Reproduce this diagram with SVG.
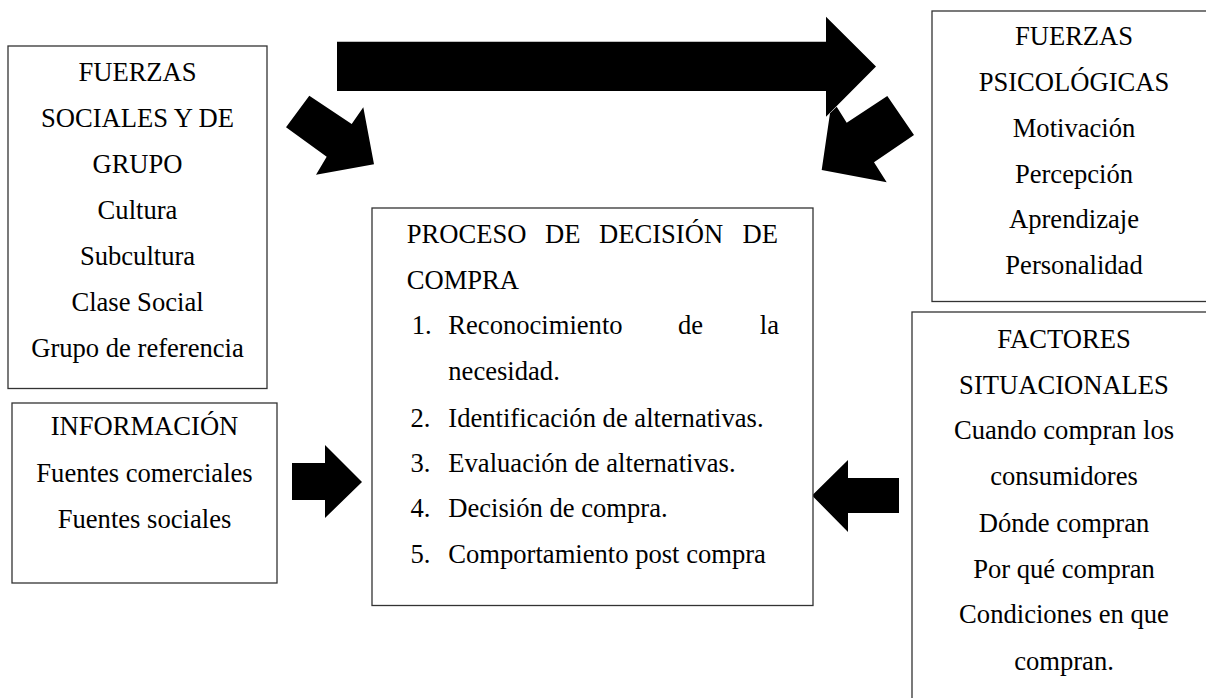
<svg xmlns="http://www.w3.org/2000/svg" width="1206" height="698" viewBox="0 0 1206 698" font-family="'Liberation Serif', 'DejaVu Serif', serif">
<style>
.box{fill:#fff;stroke:#333;stroke-width:1.3}
text{font-family:'Liberation Serif','DejaVu Serif',serif;font-size:26.6px;fill:#000}
.c{text-anchor:middle}
.e{text-anchor:end}
.arr{fill:#000}
</style>
<rect width="1206" height="698" fill="#fff"/>
<g id="connectors">
<polygon class="arr" points="337,41.7 826,41.7 826,16.7 876,66.5 826,116.7 826,91 337,91"/>
<polygon class="arr" points="309.3,95.7 351.7,124 363.3,107.3 374,164.3 316,174.7 326.7,156.7 286,127.3"/>
<polygon class="arr" points="887.3,96 914,135 874,162.3 886.7,182.3 821.7,170 830,113.3 836.7,106.7 846.7,122.7"/>
<polygon class="arr" points="292,463 325,463 325,445 362,482 325,518 325,500 292,500"/>
<polygon class="arr" points="899,478 848,478 848,460 812,495.5 848,532 848,513 899,513"/>
</g>
<g id="n-sociales">
<rect class="box" x="8" y="46" width="259" height="342.5"/>
<text class="c" x="137.5" y="81">FUERZAS</text>
<text class="c" x="137.5" y="127">SOCIALES Y DE</text>
<text class="c" x="137.5" y="173">GRUPO</text>
<text class="c" x="137.5" y="219">Cultura</text>
<text class="c" x="137.5" y="265">Subcultura</text>
<text class="c" x="137.5" y="310.5">Clase Social</text>
<text class="c" x="137.5" y="356.5">Grupo de referencia</text>
</g>
<g id="n-informacion">
<rect class="box" x="12" y="403" width="265" height="180"/>
<text class="c" x="144.5" y="435">INFORMACIÓN</text>
<text class="c" x="144.5" y="481.5">Fuentes comerciales</text>
<text class="c" x="144.5" y="528">Fuentes sociales</text>
</g>
<g id="n-proceso">
<rect class="box" x="372" y="208" width="441" height="397.5"/>
<text x="406.7" y="243">PROCESO</text>
<text x="545" y="243">DE</text>
<text x="599" y="243">DECISIÓN</text>
<text class="e" x="778" y="243">DE</text>
<text x="406.7" y="289">COMPRA</text>
<text x="411.7" y="334">1.</text>
<text x="448.3" y="334">Reconocimiento</text>
<text x="678" y="334">de</text>
<text class="e" x="779" y="334">la</text>
<text x="448.3" y="380">necesidad.</text>
<text x="410.5" y="426.5">2.</text>
<text x="448.3" y="426.5">Identificación de alternativas.</text>
<text x="410.5" y="471.7">3.</text>
<text x="448.3" y="471.7">Evaluación de alternativas.</text>
<text x="410.5" y="516.7">4.</text>
<text x="448.3" y="516.7">Decisión de compra.</text>
<text x="410.5" y="563">5.</text>
<text x="448.3" y="563">Comportamiento post compra</text>
</g>
<g id="n-psicologicas">
<rect class="box" x="932" y="11" width="290" height="290.5"/>
<text class="c" x="1074" y="45">FUERZAS</text>
<text class="c" x="1074" y="90.7">PSICOLÓGICAS</text>
<text class="c" x="1074" y="136.7">Motivación</text>
<text class="c" x="1074" y="182.5">Percepción</text>
<text class="c" x="1074" y="228.3">Aprendizaje</text>
<text class="c" x="1074" y="274">Personalidad</text>
</g>
<g id="n-situacionales">
<rect class="box" x="912" y="312" width="310" height="400"/>
<text class="c" x="1064" y="348.3">FACTORES</text>
<text class="c" x="1064" y="394">SITUACIONALES</text>
<text class="c" x="1064" y="439.3">Cuando compran los</text>
<text class="c" x="1064" y="485">consumidores</text>
<text class="c" x="1064" y="531.7">Dónde compran</text>
<text class="c" x="1064" y="577.7">Por qué compran</text>
<text class="c" x="1064" y="623.3">Condiciones en que</text>
<text class="c" x="1064" y="670">compran.</text>
</g>
</svg>
